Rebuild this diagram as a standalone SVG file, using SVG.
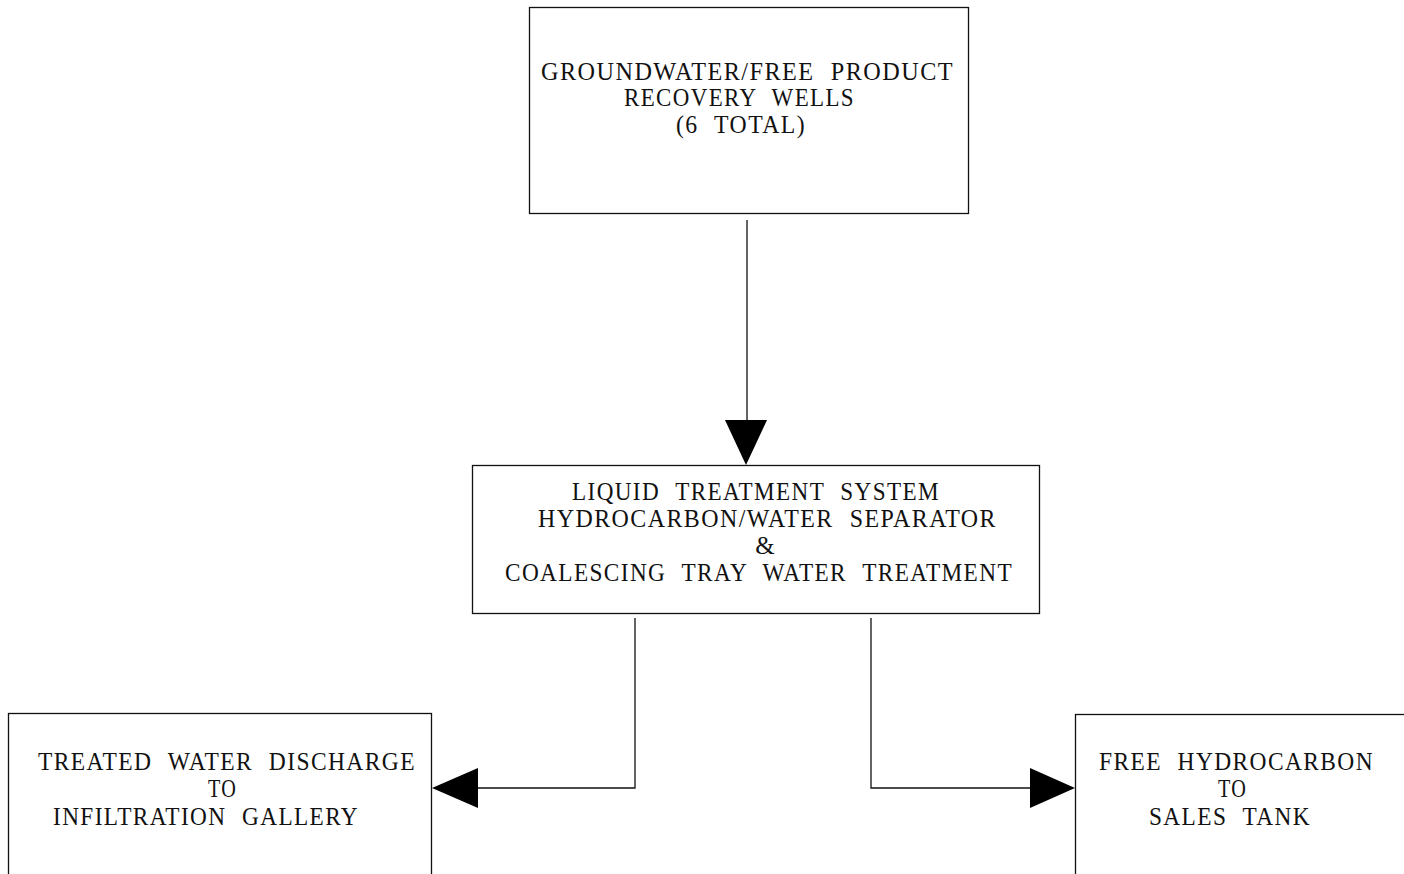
<svg xmlns="http://www.w3.org/2000/svg" width="1404" height="874" viewBox="0 0 1404 874">
<style>
.box{fill:#fff;stroke:#111;stroke-width:1.3}
.t{font-family:"Liberation Serif","Times New Roman",serif;font-size:25px;fill:#111;letter-spacing:1.5px;word-spacing:9px}
.c{fill:none;stroke:#111;stroke-width:1.3}
.ah{fill:#000}
</style>
<rect width="1404" height="874" fill="#fff"/>
<g id="node-wells">
<rect class="box" x="529.5" y="7.5" width="439" height="206"/>
<text class="t" x="541" y="80" textLength="413" lengthAdjust="spacingAndGlyphs">GROUNDWATER/FREE PRODUCT</text>
<text class="t" x="624" y="106" textLength="231" lengthAdjust="spacingAndGlyphs">RECOVERY WELLS</text>
<text class="t" x="676" y="133" textLength="130" lengthAdjust="spacingAndGlyphs">(6 TOTAL)</text>
</g>
<g id="node-treatment">
<rect class="box" x="472.5" y="465.5" width="567" height="148"/>
<text class="t" x="572" y="500" textLength="368" lengthAdjust="spacingAndGlyphs">LIQUID TREATMENT SYSTEM</text>
<text class="t" x="538" y="527" textLength="459" lengthAdjust="spacingAndGlyphs">HYDROCARBON/WATER SEPARATOR</text>
<text class="t" x="765" y="554" text-anchor="middle" style="letter-spacing:0">&amp;</text>
<text class="t" x="505" y="581" textLength="508" lengthAdjust="spacingAndGlyphs">COALESCING TRAY WATER TREATMENT</text>
</g>
<g id="node-discharge">
<rect class="box" x="8.5" y="713.5" width="423" height="170"/>
<text class="t" x="38" y="770" textLength="378" lengthAdjust="spacingAndGlyphs">TREATED WATER DISCHARGE</text>
<text class="t" x="208" y="797" textLength="29" lengthAdjust="spacingAndGlyphs">TO</text>
<text class="t" x="53" y="825" textLength="306" lengthAdjust="spacingAndGlyphs">INFILTRATION GALLERY</text>
</g>
<g id="node-sales">
<rect class="box" x="1075.5" y="714.5" width="340" height="170"/>
<text class="t" x="1099" y="770" textLength="275" lengthAdjust="spacingAndGlyphs">FREE HYDROCARBON</text>
<text class="t" x="1218" y="797" textLength="29" lengthAdjust="spacingAndGlyphs">TO</text>
<text class="t" x="1149" y="825" textLength="162" lengthAdjust="spacingAndGlyphs">SALES TANK</text>
</g>
<g id="connectors">
<path class="c" d="M747 220 V422"/>
<polygon class="ah" points="725,420 767,420 746,465"/>
<path class="c" d="M635 618 V788 H478"/>
<polygon class="ah" points="478,768 478,808 432,788"/>
<path class="c" d="M871 618 V788 H1030"/>
<polygon class="ah" points="1030,768 1030,808 1075,788"/>
</g>
</svg>
